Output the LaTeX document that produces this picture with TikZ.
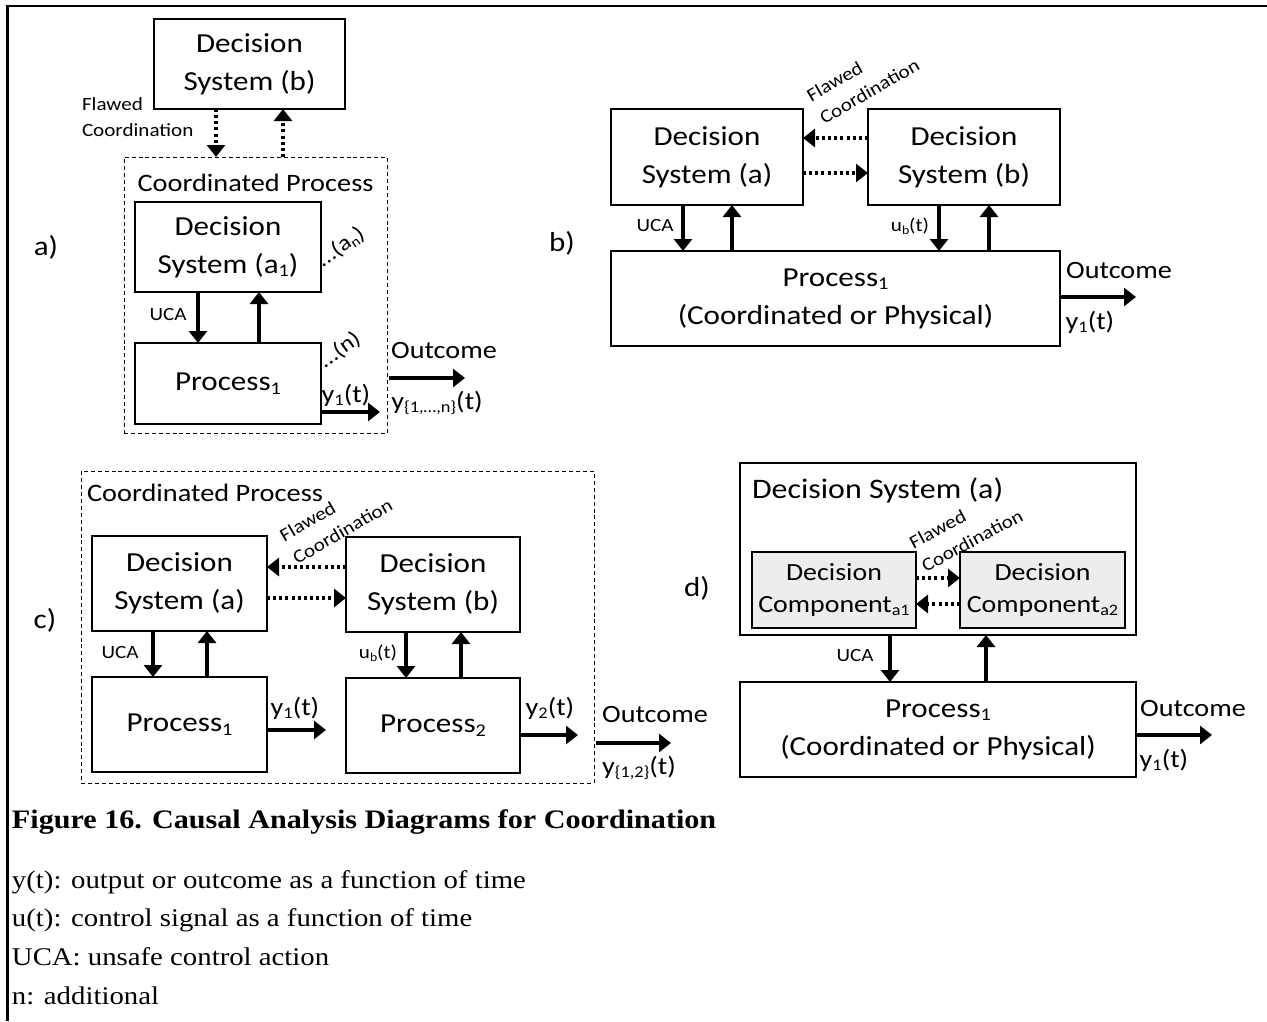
\documentclass[tikz,border=0pt]{standalone}
\usepackage{fontspec}
\setmainfont{Carlito}[FakeStretch=1.13]
\newfontfamily\capfont{Liberation Serif}[FakeStretch=1.13]
\usetikzlibrary{arrows.meta}

\definecolor{compgray}{RGB}{237,237,237}
\newcommand\dn[1]{\raisebox{-0.28ex}{\scalebox{0.65}{#1}}}
\newcommand\fsz[2]{\fontsize{#1}{#2}\selectfont}

\tikzset{
  every node/.style={inner sep=0pt, outer sep=0pt},
  wh/.style 2 args={minimum width=#1*0.75pt, minimum height=#2*0.75pt},
  blk/.style={draw, line width=0.9pt, align=center, font=\fsz{20.6pt}{28.5pt}},
  cmp/.style={blk, fill=compgray, font=\fsz{18.5pt}{23.3pt}},
  grp/.style={draw, line width=0.75pt, dash pattern=on 3pt off 2.2pt},
  grptitle/.style={font=\fsz{18.8pt}{22pt}},
  lbl/.style={font=\fsz{14pt}{19.5pt}},
  more/.style={font=\fsz{16.5pt}{19.5pt}, rotate=35, anchor=base west},
  sig/.style={font=\fsz{18.7pt}{22pt}},
  panel/.style={font=\fsz{20.6pt}{24pt}},
  arr/.style={line width=2.5pt, -{Triangle[length=9pt,width=13.5pt]}},
  darr/.style={arr, dash pattern=on 2.3pt off 2.3pt},
  legend/.style={anchor=base west, font=\capfont\fsz{19.1pt}{24pt}},
}

\begin{document}
\begin{tikzpicture}[x=0.75pt,y=-0.75pt]
\useasboundingbox (0,0) rectangle (1267,1021);
% page frame
\draw[line width=1.6pt] (7.5,1021) -- (7.5,6) -- (1267,6);

% ---------------- a) ----------------
\node[blk, wh={191}{90}] (dsb) at (249.5,64) {Decision\\System (b)};
\node[grp, wh={263}{276}] (cpa) at (255.5,295) {};
\node[grptitle] (cpaT) at (255.5,183) {Coordinated Process};
\node[blk, wh={186}{90}] (dsa1) at (228,247) {Decision\\System (a\dn{1})};
\node[blk, wh={186}{81}] (pa) at (228,383.5) {Process\dn{1}};
\node[lbl, align=left, anchor=north west] (fca) at (82,98) {Flawed\\Coordination};
\draw[darr] (dsb.south -| 216,0) -- (cpa.north -| 216,0);
\draw[darr] (cpa.north -| 283,0) -- (dsb.south -| 283,0);
\draw[arr] (dsa1.south -| 198,0) -- (pa.north -| 198,0);
\draw[arr] (pa.north -| 259,0) -- (dsa1.south -| 259,0);
\node[lbl] (ucaA) at (168,315) {UCA};
\node[more] (moreA) at (323,267) {…(a\dn{n})};
\node[more] (moreP) at (325,368) {…(n)};
\coordinate (ya) at (380,412);
\draw[arr] (pa.east |- ya) -- (ya);
\node[sig] (yaL) at (346,395) {y\dn{1}(t)};
\coordinate (oa1) at (389,378);
\coordinate (oa2) at (465,378);
\draw[arr] (oa1) -- (oa2);
\node[sig] (outA) at (444,350) {Outcome};
\node[sig] (yaO) at (437,403) {y\dn{\{1,…,n\}}(t)};
\node[panel] (labA) at (46,247) {a)};

% ---------------- b) ----------------
\node[blk, wh={192}{96}] (dsab) at (707,157) {Decision\\System (a)};
\node[blk, wh={192}{96}] (dsbb) at (964,157) {Decision\\System (b)};
\node[blk, wh={449}{95}] (pb) at (835.5,298.5) {Process\dn{1}\\(Coordinated or Physical)};
\draw[darr] (dsbb.west |- 0,138) -- (dsab.east |- 0,138);
\draw[darr] (dsab.east |- 0,173) -- (dsbb.west |- 0,173);
\node[lbl, align=left, rotate=30] (fcb) at (863,80) {Flawed\\Coordination};
\draw[arr] (dsab.south -| 683,0) -- (pb.north -| 683,0);
\draw[arr] (pb.north -| 732,0) -- (dsab.south -| 732,0);
\draw[arr] (dsbb.south -| 939,0) -- (pb.north -| 939,0);
\draw[arr] (pb.north -| 989,0) -- (dsbb.south -| 989,0);
\node[lbl] (ucaB) at (655,226) {UCA};
\node[lbl] (ubB) at (910,226) {u\dn{b}(t)};
\coordinate (ob) at (1136,297);
\draw[arr] (pb.east |- ob) -- (ob);
\node[sig] (outB) at (1119,270) {Outcome};
\node[sig] (ybO) at (1090,322) {y\dn{1}(t)};
\node[panel] (labB) at (562,243) {b)};

% ---------------- c) ----------------
\node[grp, wh={513}{312}] (cpc) at (337.5,627) {};
\node[grptitle] (cpcT) at (205,493) {Coordinated Process};
\node[blk, wh={175}{95}] (dsac) at (179.5,583.5) {Decision\\System (a)};
\node[blk, wh={174}{95}] (dsbc) at (433,584.5) {Decision\\System (b)};
\node[blk, wh={175}{95}] (p1c) at (179.5,724.5) {Process\dn{1}};
\node[blk, wh={174}{95}] (p2c) at (433,725.5) {Process\dn{2}};
\draw[darr] (dsbc.west |- 0,567) -- (dsac.east |- 0,567);
\draw[darr] (dsac.east |- 0,598) -- (dsbc.west |- 0,598);
\node[lbl, align=left, rotate=30] (fcc) at (336,520) {Flawed\\Coordination};
\draw[arr] (dsac.south -| 153,0) -- (p1c.north -| 153,0);
\draw[arr] (p1c.north -| 207,0) -- (dsac.south -| 207,0);
\draw[arr] (dsbc.south -| 406,0) -- (p2c.north -| 406,0);
\draw[arr] (p2c.north -| 461,0) -- (dsbc.south -| 461,0);
\node[lbl] (ucaC) at (120,653) {UCA};
\node[lbl] (ubC) at (378,653) {u\dn{b}(t)};
\coordinate (y1c) at (326,730);
\draw[arr] (p1c.east |- y1c) -- (y1c);
\node[sig] (y1cL) at (295,708) {y\dn{1}(t)};
\coordinate (y2c) at (578,735);
\draw[arr] (p2c.east |- y2c) -- (y2c);
\node[sig] (y2cL) at (550,708) {y\dn{2}(t)};
\coordinate (oc1) at (596,743);
\coordinate (oc2) at (671,743);
\draw[arr] (oc1) -- (oc2);
\node[sig] (outC) at (655,714) {Outcome};
\node[sig] (ycO) at (639,768) {y\dn{\{1,2\}}(t)};
\node[panel] (labC) at (45,620) {c)};

% ---------------- d) ----------------
\node[blk, wh={396}{172}] (dsad) at (938,549) {};
\node[blk, draw=none, anchor=west, font=\fsz{21.2pt}{24pt}] (dsadT) at (752,490) {Decision System (a)};
\node[cmp, wh={164}{76}] (ca1) at (834,590) {Decision\\Component\dn{a1}};
\node[cmp, wh={165}{76}] (ca2) at (1042.5,590) {Decision\\Component\dn{a2}};
\draw[darr] (ca1.east |- 0,578) -- (ca2.west |- 0,578);
\draw[darr] (ca2.west |- 0,604) -- (ca1.east |- 0,604);
\node[lbl, align=left, rotate=28] (fcd) at (966,529) {Flawed\\Coordination};
\node[blk, wh={396}{95}] (pd) at (938,729.5) {Process\dn{1}\\(Coordinated or Physical)};
\draw[arr] (dsad.south -| 890,0) -- (pd.north -| 890,0);
\draw[arr] (pd.north -| 986,0) -- (dsad.south -| 986,0);
\node[lbl] (ucaD) at (855,656) {UCA};
\coordinate (od) at (1212,735);
\draw[arr] (pd.east |- od) -- (od);
\node[sig] (outD) at (1193,708) {Outcome};
\node[sig] (ydO) at (1164,760) {y\dn{1}(t)};
\node[panel] (labD) at (697,588) {d)};

% ---------------- caption and legend ----------------
\node[legend, font=\capfont\bfseries\fsz{20pt}{24pt}] (cap) at (12,828) {Figure 16. Causal Analysis Diagrams for Coordination};
\node[legend] (l1) at (12,888) {y(t): output or outcome as a function of time};
\node[legend] (l2) at (12,926) {u(t): control signal as a function of time};
\node[legend] (l3) at (12,965) {UCA: unsafe control action};
\node[legend] (l4) at (12,1004) {n: additional};
\end{tikzpicture}
\end{document}
